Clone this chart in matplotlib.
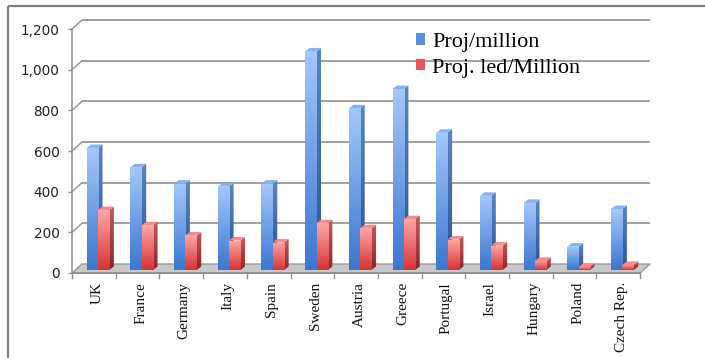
import matplotlib
matplotlib.use('Agg')
import matplotlib.pyplot as plt
import numpy as np
from matplotlib.patches import Polygon, Patch
from matplotlib.colors import LinearSegmentedColormap
from matplotlib.lines import Line2D

countries = ["UK", "France", "Germany", "Italy", "Spain", "Sweden", "Austria",
             "Greece", "Portugal", "Israel", "Hungary", "Poland", "Czech Rep."]
proj_per_million = [600, 505, 425, 410, 425, 1075, 795, 890, 675, 365, 330, 115, 300]
proj_led_per_million = [295, 220, 170, 145, 135, 230, 205, 250, 150, 120, 45, 15, 25]
series_names = ["Proj/million", "Proj. led/Million"]
y_ticks = [0, 200, 400, 600, 800, 1000, 1200]

W, H = 705, 358
fig = plt.figure(figsize=(W / 100, H / 100), dpi=100)
fig.patch.set_facecolor('white')

# pixel geometry of plot area
AX_L, AX_R, AX_T, AX_B = 72, 652, 19, 273
CAT_PX = 43.7
Y_PX = 0.2033
ax = fig.add_axes([AX_L / W, 1 - AX_B / H, (AX_R - AX_L) / W, (AX_B - AX_T) / H])
XLIM = (-0.5, -0.5 + (AX_R - AX_L) / CAT_PX)
YLIM = (0, (AX_B - AX_T) / Y_PX)

# 3D offsets (data units)
DX, DY = 10 / CAT_PX, 9 / Y_PX          # back wall offset
BX0, BY0 = 3 / CAT_PX, 3 / Y_PX         # bar front offset
BDX, BDY = 4.5 / CAT_PX, 3.5 / Y_PX     # bar depth
n = len(countries)
x = np.arange(n)

grid_c = '#999999'
# back wall gridlines + side wall diagonals
for v in y_ticks[1:]:
    ax.plot([-0.5 + DX, n - 0.5 + DX], [v + DY, v + DY], color=grid_c, lw=1.3,
            zorder=0.5, clip_on=False, solid_capstyle='butt')
    ax.plot([-0.5, -0.5 + DX], [v, v + DY], color=grid_c, lw=1.1, zorder=0.5, clip_on=False)

# floor
floor = Polygon([(-0.5, 0), (n - 0.5, 0), (n - 0.5 + DX, DY), (-0.5 + DX, DY)],
                closed=True, facecolor='#c8c8c8', edgecolor='#9a9a9a', lw=1.0,
                zorder=1, clip_on=False)
ax.add_patch(floor)
ax.plot([-0.5, n - 0.5], [0, 0], color='#8f8f8f', lw=1.2, zorder=1.1, clip_on=False)

# category ticks
for k in range(n + 1):
    ax.plot([k - 0.5, k - 0.5], [0, -5 / Y_PX], color='#8f8f8f', lw=1.0, clip_on=False, zorder=1)


def grad_fill(patch, c_top, c_bot, z):
    verts = patch.get_xy() if isinstance(patch, Polygon) else None
    if verts is None:
        x0, y0 = patch.get_x(), patch.get_y()
        x1, y1 = x0 + patch.get_width(), y0 + patch.get_height()
    else:
        verts = np.asarray(verts)
        x0, x1 = verts[:, 0].min(), verts[:, 0].max()
        y0, y1 = verts[:, 1].min(), verts[:, 1].max()
    cmap = LinearSegmentedColormap.from_list('g', [c_bot, c_top])
    im = ax.imshow(np.linspace(0, 1, 128).reshape(-1, 1), cmap=cmap,
                   extent=[x0, x1, y0, y1], origin='lower', aspect='auto',
                   zorder=z, interpolation='bilinear')
    im.set_clip_path(patch)


styles = [
    dict(front=('#A3C8FB', '#3B76D0'), side=('#5B84C2', '#2B5396'), top='#8AB1E8'),
    dict(front=('#FFA6A6', '#D43434'), side=('#C25A5A', '#932424'), top='#EE8F8F'),
]
offsets = [-0.165, 0.095]
bw = 0.26

for s, (vals, off, st) in enumerate(zip([proj_per_million, proj_led_per_million], offsets, styles)):
    bars = ax.bar(x + off + bw / 2, vals, width=bw, bottom=BY0, color='none',
                  edgecolor='none', zorder=3 + s)
    for i, b in enumerate(bars):
        z = 3 + s + i * 0.01
        bx0 = b.get_x()
        bx1 = bx0 + b.get_width()
        by0 = b.get_y()
        by1 = by0 + b.get_height()
        side = Polygon([(bx1, by0), (bx1 + BDX, by0 + BDY), (bx1 + BDX, by1 + BDY), (bx1, by1)],
                       closed=True, facecolor='none', edgecolor='none', transform=ax.transData, zorder=z)
        ax.add_patch(side)
        grad_fill(side, st['side'][0], st['side'][1], z)
        top = Polygon([(bx0, by1), (bx1, by1), (bx1 + BDX, by1 + BDY), (bx0 + BDX, by1 + BDY)],
                      closed=True, facecolor=st['top'], edgecolor='none', zorder=z)
        ax.add_patch(top)
        grad_fill(b, st['front'][0], st['front'][1], z + 0.001)

# y axis
ax.set_yticks(y_ticks)
ax.set_yticklabels([f"{v:,}" for v in y_ticks], fontsize=9.8, color='#222222',
                   family='DejaVu Sans')
ax.tick_params(axis='y', length=3, width=1.0, color='#8f8f8f', pad=6)
ax.set_xticks([])
for sp in ['top', 'right', 'bottom']:
    ax.spines[sp].set_visible(False)
ax.spines['left'].set_bounds(0, 1200)
ax.spines['left'].set_color('#8f8f8f')
ax.spines['left'].set_linewidth(1.1)
ax.patch.set_alpha(0)

# category labels
for i, name in enumerate(countries):
    ax.text(i + 0.07, -9 / Y_PX, name, rotation=90, ha='center', va='top',
            fontsize=11, family='Liberation Serif', color='#111111', clip_on=False)

ax.set_xlim(*XLIM)
ax.set_ylim(*YLIM)

# legend
handles = [Patch(facecolor='#5B8EDC', edgecolor='none'), Patch(facecolor='#E05A5A', edgecolor='none')]
fig.legend(handles, series_names, loc='upper left', bbox_to_anchor=(416 / W, 1 - 33 / H),
           frameon=False, prop={'family': 'Liberation Serif', 'size': 16},
           handlelength=0.42, handleheight=0.42, handletextpad=0.3, labelspacing=0.3,
           borderpad=0, borderaxespad=0)

# outer frame (top and left edges visible)
fig.add_artist(Line2D([8 / W, 1.01], [1 - 6 / H, 1 - 6 / H], transform=fig.transFigure,
                      color='#808080', lw=1.6, solid_capstyle='butt'))
fig.add_artist(Line2D([8 / W, 8 / W], [-0.01, 1 - 6 / H], transform=fig.transFigure,
                      color='#808080', lw=1.6, solid_capstyle='butt'))

fig.savefig('out.png', dpi=100, facecolor='white')
